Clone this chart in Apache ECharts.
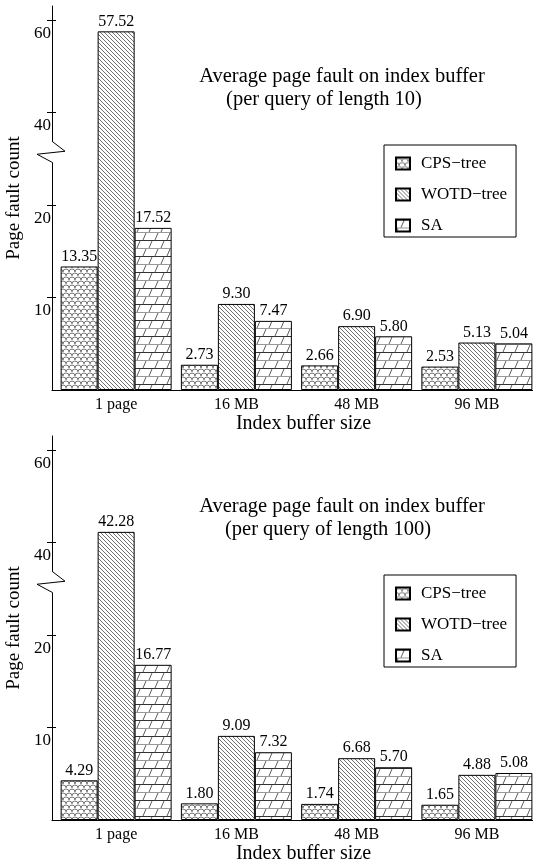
<!DOCTYPE html>
<html>
<head>
<meta charset="utf-8">
<title>Average page fault on index buffer</title>
<script src="https://cdn.jsdelivr.net/npm/echarts@6.0.0/dist/echarts.min.js"></script>
<style>
    html, body { margin: 0; padding: 0; background: #fff; }
    #main { width: 533px; height: 865px; }
</style>
</head>
<body>
<div id="main"></div>
<script>
// ---- 数据 ----
var categories = ['1 page', '16 MB', '48 MB', '96 MB'];
var seriesNames = ['CPS\u2212tree', 'WOTD\u2212tree', 'SA'];

// query length 10
var cps10 = [13.35, 2.73, 2.66, 2.53];
var wotd10 = [57.52, 9.30, 6.90, 5.13];
var sa10 = [17.52, 7.47, 5.80, 5.04];

// query length 100
var cps100 = [4.29, 1.80, 1.74, 1.65];
var wotd100 = [42.28, 9.09, 6.68, 4.88];
var sa100 = [16.77, 7.32, 5.70, 5.08];

var yTicks = [10, 20, 40, 60];
var titleLine1 = ['Average page fault on index buffer', 'Average page fault on index buffer'];
var titleLine2 = ['(per query of length 10)', '(per query of length 100)'];

var FONT = "'Liberation Serif', 'Times New Roman', serif";

// 断轴: 20 以上按一半比例画
function toAxis(v) { return v <= 20 ? v : 20 + (v - 20) / 2; }
function fromAxis(v) { return v <= 20 ? v : 20 + (v - 20) * 2; }

// ---- 填充图案 ----
function makeCanvas(w, h) {
    var c = document.createElement('canvas');
    c.width = w; c.height = h;
    var ctx = c.getContext('2d');
    ctx.fillStyle = '#fff';
    ctx.fillRect(0, 0, w, h);
    return c;
}

function cpsPattern() {
    var c = makeCanvas(6, 8), ctx = c.getContext('2d');
    ctx.strokeStyle = '#666';
    ctx.lineWidth = 0.9;
    ctx.beginPath(); ctx.arc(3, 4, 3, Math.PI, 2 * Math.PI); ctx.stroke();
    ctx.beginPath(); ctx.arc(0, 8, 3, Math.PI, 2 * Math.PI); ctx.stroke();
    ctx.beginPath(); ctx.arc(6, 8, 3, Math.PI, 2 * Math.PI); ctx.stroke();
    return c;
}

function wotdPattern() {
    var c = makeCanvas(4, 4), ctx = c.getContext('2d');
    ctx.strokeStyle = '#333';
    ctx.lineWidth = 0.7;
    ctx.beginPath();
    ctx.moveTo(-1, -1); ctx.lineTo(5, 5);
    ctx.moveTo(-1, 3); ctx.lineTo(1, 5);
    ctx.moveTo(3, -1); ctx.lineTo(5, 1);
    ctx.stroke();
    return c;
}

function saPattern() {
    var c = makeCanvas(24, 16), ctx = c.getContext('2d');
    ctx.lineWidth = 1;
    ctx.strokeStyle = '#333';
    ctx.beginPath(); ctx.moveTo(0, 0.5); ctx.lineTo(24, 0.5); ctx.stroke();
    ctx.strokeStyle = '#999';
    ctx.beginPath(); ctx.moveTo(0, 8.5); ctx.lineTo(24, 8.5); ctx.stroke();
    ctx.strokeStyle = '#333';
    ctx.lineWidth = 0.8;
    ctx.beginPath();
    ctx.moveTo(5, 8); ctx.lineTo(8, 1);
    ctx.moveTo(17, 8); ctx.lineTo(20, 1);
    ctx.moveTo(11, 16); ctx.lineTo(14, 9);
    ctx.moveTo(23, 16); ctx.lineTo(26, 9);
    ctx.moveTo(-1, 16); ctx.lineTo(2, 9);
    ctx.stroke();
    return c;
}

var fills = [
    { image: cpsPattern(), repeat: 'repeat' },
    { image: wotdPattern(), repeat: 'repeat' },
    { image: saPattern(), repeat: 'repeat' }
];

// ---- 布局 ----
// 柱子所在 grid 比 y 轴线靠右 4px, 所以每个面板用两个 grid 叠在一起
var BAR_LEFT = 56, BAR_W = 481, AXIS_X = 52, GRID_H = 384;
var panelTop = [6, 436];
var YMAX = 41.5;
var tickPos = yTicks.map(toAxis);

var panels = [[cps10, wotd10, sa10], [cps100, wotd100, sa100]];

var myChart = echarts.init(document.getElementById('main'));

var option = {
    animation: false,
    title: [],
    legend: [],
    grid: [],
    xAxis: [],
    yAxis: [],
    series: []
};

panels.forEach(function (vals, p) {
    var off = p * 430;
    option.title.push({
        text: titleLine1[p], left: 342, top: 66 + off, textAlign: 'center', padding: 0,
        textStyle: { fontSize: 20.5, fontWeight: 'normal', color: '#000', fontFamily: FONT }
    });
    option.title.push({
        text: titleLine2[p], left: p ? 328 : 324, top: 89 + off, textAlign: 'center', padding: 0,
        textStyle: { fontSize: 20.5, fontWeight: 'normal', color: '#000', fontFamily: FONT }
    });
    option.legend.push({
        orient: 'vertical', left: 384, top: 145 + off,
        data: seriesNames, icon: 'rect', itemWidth: 14, itemHeight: 12, itemGap: 14,
        padding: [10, 9, 3, 11], borderColor: '#000', borderWidth: 1,
        selectedMode: false,
        textStyle: { fontSize: 17, color: '#000', fontFamily: FONT, padding: [0, 0, 0, 6] }
    });

    // grid 2p: 柱子; grid 2p+1: 可见的坐标轴线
    option.grid.push({ left: BAR_LEFT, top: panelTop[p], width: BAR_W, height: GRID_H, outerBoundsMode: 'none' });
    option.grid.push({ left: AXIS_X, top: panelTop[p], width: BAR_W + BAR_LEFT - AXIS_X, height: GRID_H, outerBoundsMode: 'none' });

    option.xAxis.push({
        type: 'category', gridIndex: 2 * p, data: categories,
        axisLine: { show: false },
        axisTick: { show: false },
        axisLabel: { margin: 7, fontSize: 16, color: '#000', fontFamily: FONT },
        name: 'Index buffer size', nameLocation: 'middle', nameGap: 21,
        nameTextStyle: { fontSize: 20, color: '#000', fontFamily: FONT, padding: [0, 0, 0, 14] }
    });
    option.xAxis.push({
        type: 'category', gridIndex: 2 * p + 1, data: categories,
        axisLine: { show: true, lineStyle: { color: '#000' } },
        axisTick: { show: false },
        axisLabel: { show: false }
    });

    // 柱子用的 y 轴, 不显示
    option.yAxis.push({
        type: 'value', gridIndex: 2 * p, min: 0, max: YMAX, interval: 10, show: false
    });
    // 可见 y 轴: 轴线 + 刻度标签 + 内侧刻度
    option.yAxis.push({
        type: 'value', gridIndex: 2 * p + 1, position: 'left', min: 0, max: YMAX, interval: 10,
        axisLine: { show: true, lineStyle: { color: '#000' } },
        axisTick: { show: true, inside: true, length: 4, customValues: tickPos, lineStyle: { color: '#000' } },
        axisLabel: {
            customValues: tickPos, margin: 1, verticalAlign: 'top', padding: [5, 0, 0, 0],
            fontSize: 17, color: '#000', fontFamily: FONT,
            formatter: function (v) { return String(Math.round(fromAxis(v))); }
        },
        splitLine: { show: false },
        name: 'Page fault count', nameLocation: 'middle', nameGap: 26,
        nameTextStyle: { fontSize: 19, color: '#000', fontFamily: FONT }
    });
    // 外侧刻度
    option.yAxis.push({
        type: 'value', gridIndex: 2 * p + 1, position: 'left', min: 0, max: YMAX, interval: 10,
        axisLine: { show: false },
        axisTick: { show: true, inside: false, length: 5, customValues: tickPos, lineStyle: { color: '#000' } },
        axisLabel: { show: false },
        splitLine: { show: false }
    });

    vals.forEach(function (arr, s) {
        option.series.push({
            name: seriesNames[s], type: 'bar',
            xAxisIndex: 2 * p, yAxisIndex: 3 * p,
            barWidth: 37, barGap: '0%',
            data: arr.map(toAxis),
            itemStyle: { color: fills[s], borderColor: '#000', borderWidth: 1 },
            emphasis: { disabled: true },
            label: {
                show: true, position: 'top', distance: 2,
                fontSize: 16, color: '#000', fontFamily: FONT,
                formatter: function (pr) { return arr[pr.dataIndex].toFixed(2); }
            }
        });
    });
});

myChart.setOption(option);

// 断轴的折线符号, 位置由坐标轴换算
var graphics = [];
panels.forEach(function (vals, p) {
    var yc = myChart.convertToPixel({ xAxisIndex: 2 * p + 1, yAxisIndex: 3 * p + 1 }, [0, toAxis(31.5)])[1];
    var ax = AXIS_X;
    graphics.push({
        type: 'rect', z: 100,
        shape: { x: ax - 3, y: yc - 10.5, width: 6, height: 21 },
        style: { fill: '#fff' }
    });
    graphics.push({
        type: 'polyline', z: 101,
        shape: { points: [[ax, yc - 10.5], [ax + 13, yc - 0.5], [ax - 15, yc + 2.5], [ax, yc + 10.5]] },
        style: { stroke: '#000', lineWidth: 1, fill: null }
    });
});
myChart.setOption({ graphic: graphics });
</script>
</body>
</html>
